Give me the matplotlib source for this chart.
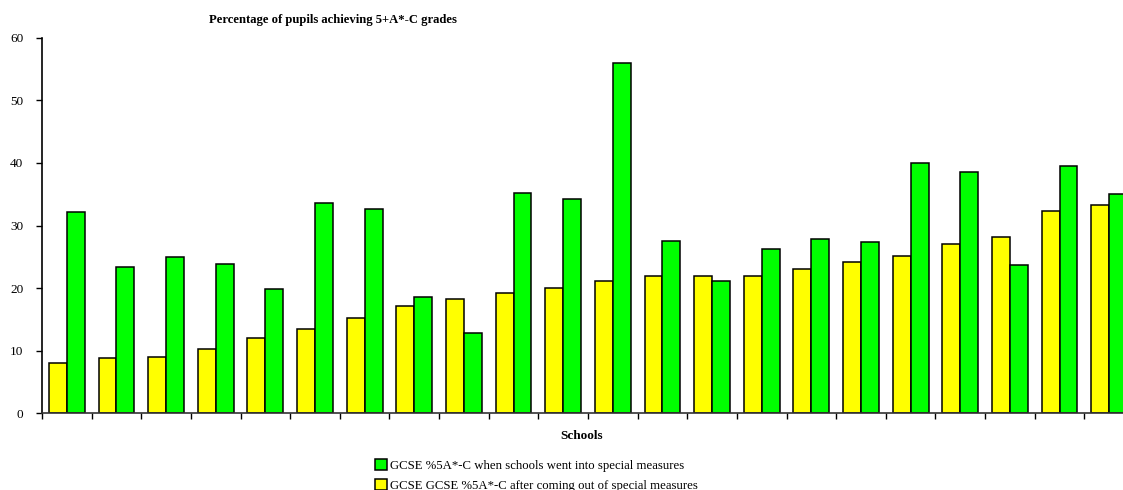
import numpy as np
import matplotlib.pyplot as plt

plt.rcParams['font.family'] = ['Liberation Serif', 'DejaVu Serif']

# GCSE % 5A*-C per school
after_sm = [8.0, 8.8, 9.0, 10.3, 12.1, 13.5, 15.2, 17.2, 18.2, 19.2, 20.1,
            21.1, 22.0, 22.0, 22.0, 23.0, 24.1, 25.1, 27.0, 28.2, 32.3, 33.3]
into_sm = [32.1, 23.3, 25.0, 23.9, 19.9, 33.6, 32.7, 18.6, 12.9, 35.2, 34.2,
           56.0, 27.6, 21.1, 26.2, 27.8, 27.4, 40.0, 38.6, 23.7, 39.5, 35.0]
label_into = 'GCSE %5A*-C when schools went into special measures'
label_after = 'GCSE GCSE %5A*-C after coming out of special measures'

W, H = 1123, 490
fig = plt.figure(figsize=(W / 100, H / 100), dpi=100)
ax = fig.add_axes([42 / W, 76.7 / H, 1092 / W, 375.5 / H])

x = np.arange(len(after_sm))
w = 0.36
b_after = ax.bar(x - w / 2, after_sm, w, color='#FFFF00', edgecolor='black',
                 linewidth=1.1, label=label_after)
b_into = ax.bar(x + w / 2, into_sm, w, color='#00FF00', edgecolor='black',
                linewidth=1.1, label=label_into)

ax.set_xlim(-0.5, len(x) - 0.5)
ax.set_ylim(0, 60)
ax.set_yticks(range(0, 61, 10))
ax.set_xticks(np.arange(-0.5, len(x), 1.0))
ax.set_xticklabels([])
ax.tick_params(axis='both', direction='out', length=4, width=1, labelsize=9.5,
               colors='black')
ax.tick_params(axis='y', pad=9.5)
for s in ['top', 'right']:
    ax.spines[s].set_visible(False)
ax.spines['left'].set_linewidth(1.2)
ax.spines['bottom'].set_linewidth(1.2)
ax.spines['bottom'].set_color('#333333')

fig.text(333 / W, 1 - 20 / H, 'Percentage of pupils achieving 5+A*-C grades',
         ha='center', va='center', fontsize=9.1, fontweight='bold')
fig.text(582 / W, 1 - 436 / H, 'Schools', ha='center', va='center',
         fontsize=9.5, fontweight='bold')

fig.legend(handles=[b_into, b_after], labels=[label_into, label_after],
           loc='upper left', bbox_to_anchor=(375 / W, 1 - 459 / H),
           frameon=False, fontsize=9.2, handlelength=0.95, handleheight=0.95,
           handletextpad=0.2, labelspacing=0.55, borderpad=0, borderaxespad=0)

fig.savefig('out.png', dpi=100)
